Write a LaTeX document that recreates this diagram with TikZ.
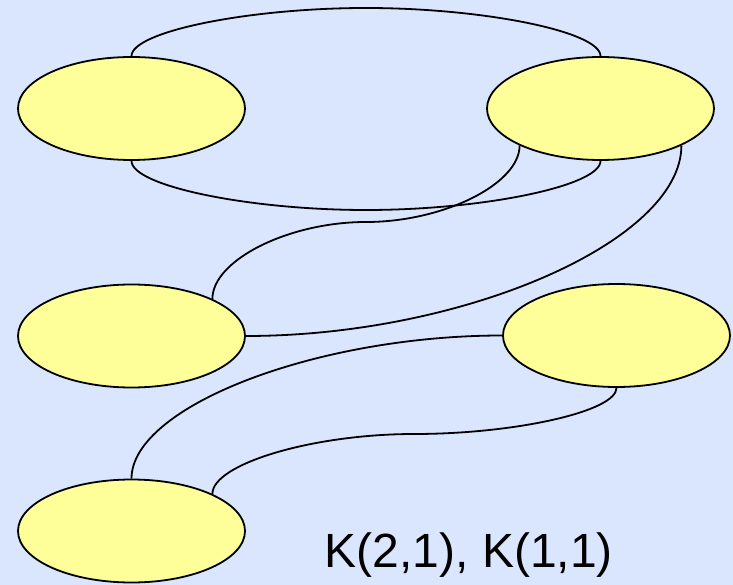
\documentclass[tikz,border=0pt]{standalone}
\usepackage{fontspec}
\setmainfont{Liberation Sans}
\usetikzlibrary{shapes.geometric}
\definecolor{bgblue}{RGB}{218,230,254}
\definecolor{vyellow}{RGB}{255,255,153}
\begin{document}
\begin{tikzpicture}[x=1pt,y=-1pt,
  vert/.style={ellipse,draw=black,fill=vyellow,line width=1.8pt,
    minimum width=227pt,minimum height=103pt,inner sep=0pt},
  edge/.style={draw=black,line width=1.8pt}]
  \fill[bgblue] (0,0) rectangle (733,585);
  \useasboundingbox (0,0) rectangle (733,585);

  % vertices
  \node[vert] (a) at (131.5,108.5) {};
  \node[vert] (b) at (600.5,108.5) {};
  \node[vert] (c) at (131.5,336) {};
  \node[vert] (d) at (616.5,335.5) {};
  \node[vert] (e) at (131.5,531) {};

  % turning points of the S-shaped connectors
  \coordinate (m1) at (366,8);
  \coordinate (m2) at (366,210);
  \coordinate (m3) at (366,222);
  \coordinate (m5) at (414,434);

  % edges
  \draw[edge] (a.north) .. controls +(0,-24.5) and +(-117.25,0) .. (m1)
              .. controls +(117.25,0) and +(0,-24.5) .. (b.north);
  \draw[edge] (a.south) .. controls +(0,25) and +(-117.25,0) .. (m2)
              .. controls +(117.25,0) and +(0,25) .. (b.south);
  \draw[edge] (b.south west) .. controls +(0,38.5) and +(77.3,0) .. (m3)
              .. controls +(-77.3,0) and +(0,-38.8) .. (c.north east);
  \draw[edge] (b.south east) .. controls +(0,95.5) and +(218,0) .. (c.east);
  \draw[edge] (d.west) .. controls +(-186,0) and +(0,-72) .. (e.north);
  \draw[edge] (d.south) .. controls +(0,23.5) and +(101,0) .. (m5)
              .. controls +(-101,0) and +(0,-30) .. (e.north east);

  % caption
  \node[anchor=base west,inner sep=0pt,font=\fontsize{48}{58}\selectfont]
    (cap) at (324.5,567) {K(2,1), K(1,1)};
\end{tikzpicture}
\end{document}
